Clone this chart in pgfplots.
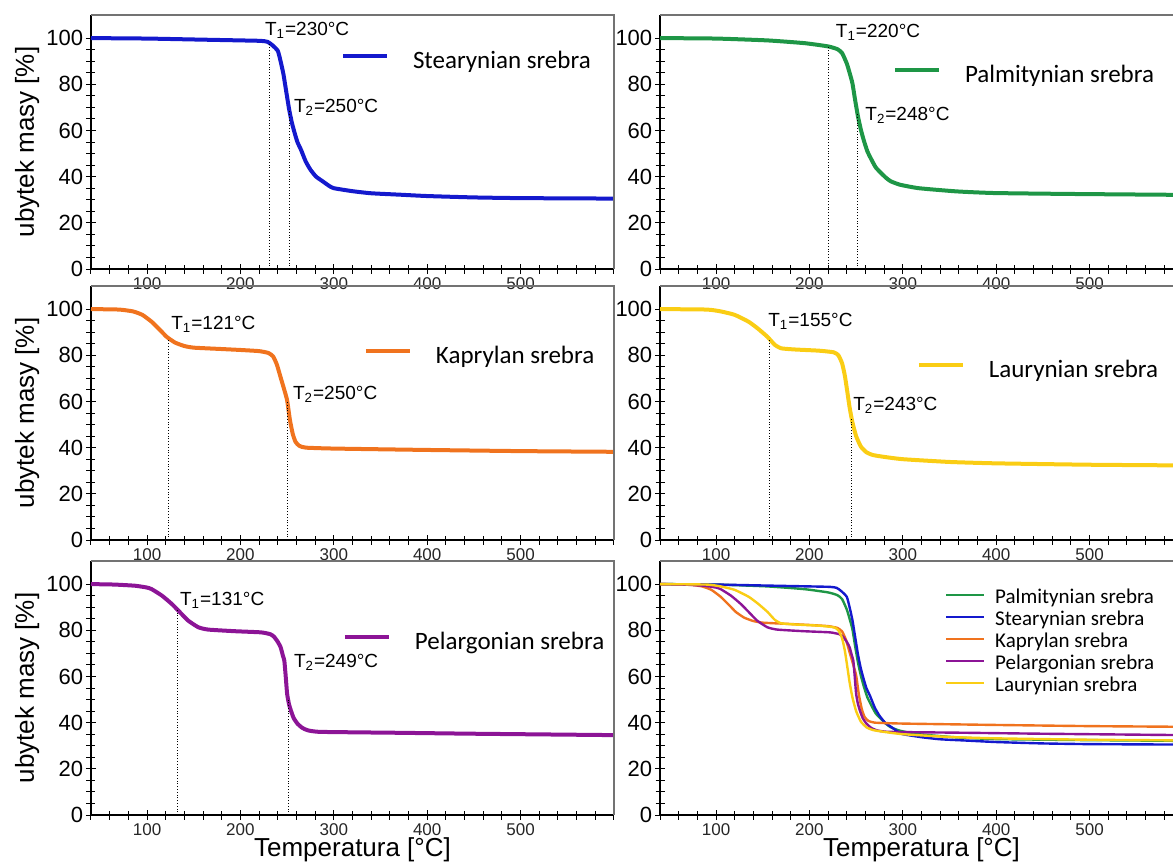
\documentclass[border=0pt]{standalone}
\usepackage{fontspec}
\setmainfont{Liberation Sans}
\newfontfamily\calib{Carlito}
\usepackage{pgfplots}
\usepackage{pgfplotstable}
\pgfplotsset{compat=1.18}

\definecolor{cblue}{RGB}{20,25,205}
\definecolor{cgreen}{RGB}{30,150,70}
\definecolor{corange}{RGB}{240,115,30}
\definecolor{cyellow}{RGB}{250,205,20}
\definecolor{cpurple}{RGB}{140,20,150}

\pgfplotstableread{
x y
40 100
100 99.8
150 99.4
200 99.0
222 98.8
229 98.4
234 97
240 94.5
243 90
246 84.5
249 77
252 69.5
255 63.5
258 59
261 55
265 51.5
270 46.5
275 43
281 40
288 38
295 36
300 35
320 33.7
340 32.8
370 32.2
400 31.6
450 31.0
500 30.7
600 30.5
}\stear

\pgfplotstableread{
x y
40 100
100 99.8
155 99
195 97.8
220 96.4
230 95.2
235 93.5
240 89
243 85
246 80.5
249 73
252 66
255 60.5
258 56
262 51
266.5 47.3
271 44
276.6 41.6
282 39.5
287 38
297 36.5
317 35
358 33.6
398 32.9
480 32.5
600 32.1
}\palm

\pgfplotstableread{
x y
40 100
70 99.8
85 99
95 97.5
105 94.5
115 90.5
121 88
130 85.5
140 84
150 83.3
175 82.8
200 82.3
220 81.8
230 81
235 79.5
239 76
243 70.5
247 65
250 60.5
253 52
256 46
259 42.5
263 40.8
270 40
300 39.6
400 39
500 38.5
600 38.2
}\kapr

\pgfplotstableread{
x y
40 100
65 99.8
87 99.3
100 98.5
105 97.8
116 95
126.5 91.4
133.6 88.5
144 84.2
155 81.3
165.5 80.3
194 79.6
222 79.1
232 78.3
236 77.2
240 75
243 72.7
245.5 69
247 66.9
248.5 60
250 52.5
252 48
254 45.3
257 42
261 39.6
266 37.8
272 36.7
286 36
371 35.6
450 35.2
600 34.6
}\pelar

\pgfplotstableread{
x y
40 100
90 99.8
105 99
120 97.5
135 94.5
145 91.5
155 88
163 84.5
170 83
185 82.5
210 82
226 81.3
231 80
235 76.5
238 71
241 63
243 57.5
246 51
250 45
255 40.5
261 38
268 36.8
280 36
300 35
350 33.8
400 33.2
500 32.6
600 32.3
}\laur

\tikzset{
 ann/.style={anchor=west, inner sep=0pt, font=\fontsize{9.5}{10}\selectfont},
 tline/.style={densely dotted, line width=0.4pt, black},
}

\pgfplotsset{
 tga/.style={
  scale only axis, width=261.5pt, height=127pt,
  xmin=40, xmax=600, ymin=0, ymax=110,
  axis x line*=bottom, axis y line*=left,
  axis line style={black, line width=0.6pt},
  xtick={100,200,300,400,500}, minor xtick={40,60,...,600},
  ytick={0,20,...,100}, minor y tick num=3,
  tick align=center,
  major tick length=5pt, minor tick length=4.5pt,
  every tick/.style={black, line width=0.5pt},
  tick label style={/pgf/number format/assume math mode=true},
  x tick label style={font=\fontsize{8.5}{9}\selectfont, inner sep=0pt, yshift=-1.5pt, text=black!85},
  y tick label style={font=\fontsize{11}{12}\selectfont, inner sep=1.2pt},
  every axis y label/.style={at={(axis description cs:-0.122,0.5)}, rotate=90, anchor=center, font=\fontsize{13}{14}\selectfont},
  every axis x label/.style={at={(axis description cs:0.5,0)}, anchor=center, yshift=-17.5pt, font=\fontsize{13}{14}\selectfont},
  clip=false,
  after end axis/.code={\draw[black!55, line width=0.6pt] (rel axis cs:0,1) -- (rel axis cs:1,1) -- (rel axis cs:1,0);},
  every axis plot/.append style={line width=2pt, smooth, tension=0.3},
  legend cell align=left,
 },
 sleg/.style={
   legend style={at={#1}, anchor=west, draw=none, fill=none, inner sep=0pt, outer sep=0pt,
     font=\calib\fontsize{12.5}{14}\selectfont, nodes={inner sep=0pt}},
   legend image code/.code={\draw[##1, line width=2pt] (0pt,0.24em) -- (22pt,0.24em); \path (34pt,0pt);},
 },
}

\begin{document}
\begin{tikzpicture}
% A: Stearynian
\begin{axis}[tga, at={(45.5pt,-134.5pt)}, anchor=south west, ylabel={ubytek masy [\%]}, sleg={(axis cs:307.7,90)}]
\addplot[cblue] table[x=x,y=y] {\stear};
\addlegendentry{Stearynian srebra}
\draw[tline] (axis cs:231.5,0) -- (axis cs:231.5,98);
\draw[tline] (axis cs:252.5,0) -- (axis cs:252.5,69);
\node[ann] at (axis cs:226,103.5) {T\textsubscript{1}=230°C};
\node[ann] at (axis cs:257,70) {T\textsubscript{2}=250°C};
\end{axis}
% B: Palmitynian
\begin{axis}[tga, at={(330pt,-134.5pt)}, anchor=south west, sleg={(axis cs:289.5,84)}]
\addplot[cgreen] table[x=x,y=y] {\palm};
\addlegendentry{Palmitynian srebra}
\draw[tline] (axis cs:220.6,0) -- (axis cs:220.6,96.4);
\draw[tline] (axis cs:251.5,0) -- (axis cs:251.5,67);
\node[ann] at (axis cs:228,102.6) {T\textsubscript{1}=220°C};
\node[ann] at (axis cs:259.5,66.7) {T\textsubscript{2}=248°C};
\end{axis}
% C: Kaprylan
\begin{axis}[tga, at={(45.5pt,-270pt)}, anchor=south west, ylabel={ubytek masy [\%]}, sleg={(axis cs:332.3,79.7)}]
\addplot[corange] table[x=x,y=y] {\kapr};
\addlegendentry{Kaprylan srebra}
\draw[tline] (axis cs:122.4,0) -- (axis cs:122.4,87.3);
\draw[tline] (axis cs:250,0) -- (axis cs:250,60.5);
\node[ann] at (axis cs:125.6,93.5) {T\textsubscript{1}=121°C};
\node[ann] at (axis cs:256,63) {T\textsubscript{2}=250°C};
\end{axis}
% D: Laurynian
\begin{axis}[tga, at={(330pt,-270pt)}, anchor=south west, sleg={(axis cs:315,73.7)}]
\addplot[cyellow] table[x=x,y=y] {\laur};
\addlegendentry{Laurynian srebra}
\draw[tline] (axis cs:156.7,0) -- (axis cs:156.7,87.3);
\draw[tline] (axis cs:245,0) -- (axis cs:245,53);
\node[ann] at (axis cs:155.6,94.8) {T\textsubscript{1}=155°C};
\node[ann] at (axis cs:246.6,58.3) {T\textsubscript{2}=243°C};
\end{axis}
% E: Pelargonian
\begin{axis}[tga, at={(45.5pt,-407.5pt)}, anchor=south west, ylabel={ubytek masy [\%]}, xlabel={Temperatura [°C]}, sleg={(axis cs:309.8,75)}]
\addplot[cpurple] table[x=x,y=y] {\pelar};
\addlegendentry{Pelargonian srebra}
\draw[tline] (axis cs:132.6,0) -- (axis cs:132.6,88.7);
\draw[tline] (axis cs:251,0) -- (axis cs:251,50);
\node[ann] at (axis cs:135,93) {T\textsubscript{1}=131°C};
\node[ann] at (axis cs:257,66) {T\textsubscript{2}=249°C};
\end{axis}
% F: all
\begin{axis}[tga, at={(330pt,-407.5pt)}, anchor=south west, xlabel={Temperatura [°C]},
  every axis plot/.append style={line width=1.2pt},
  legend style={at={(axis cs:345,74.1)}, anchor=west, draw=none, fill=none, inner sep=0pt, outer sep=0pt,
     font=\calib\fontsize{10.5}{11}\selectfont, nodes={inner sep=0pt, text height=7.5pt, text depth=3.5pt}},
  legend image code/.code={\draw[#1, line width=1.2pt] (0pt,0.26em) -- (19pt,0.26em); \path (24pt,0pt);}]
\addplot[cgreen] table[x=x,y=y] {\palm};
\addlegendentry{Palmitynian srebra}
\addplot[cblue] table[x=x,y=y] {\stear};
\addlegendentry{Stearynian srebra}
\addplot[corange] table[x=x,y=y] {\kapr};
\addlegendentry{Kaprylan srebra}
\addplot[cpurple] table[x=x,y=y] {\pelar};
\addlegendentry{Pelargonian srebra}
\addplot[cyellow] table[x=x,y=y] {\laur};
\addlegendentry{Laurynian srebra}
\end{axis}
\pgfresetboundingbox
\useasboundingbox (0pt,0pt) rectangle (586.5pt,-431.5pt);
\end{tikzpicture}
\end{document}
